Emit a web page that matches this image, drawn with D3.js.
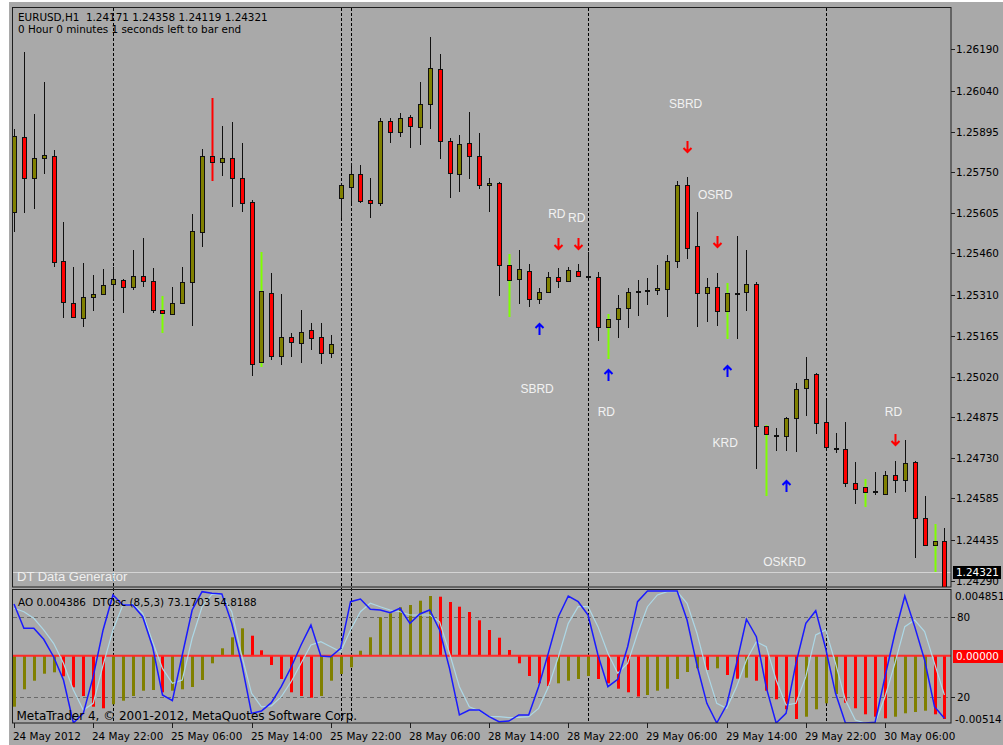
<!DOCTYPE html>
<html>
<head>
<meta charset="utf-8">
<script src="https://cdn.jsdelivr.net/npm/d3@7"></script>
<style>
body { margin: 0; background: #ffffff; }
svg text { font-family: "DejaVu Sans", sans-serif; }
</style>
</head>
<body>
<div id="chart"></div>
<script>
// EURUSD H1 bars
var opens = [1.25608,1.25876,1.25729,1.25801,1.25808,1.25433,1.25283,1.25229,1.25304,1.25315,
  1.25351,1.25365,1.25340,1.25379,1.25361,1.25258,1.25244,1.25283,1.25358,1.25536,
  1.25808,1.25786,1.25801,1.25729,1.25644,1.25072,1.25319,1.25094,1.25161,1.25140,
  1.25186,1.25161,1.25104,1.25658,1.25697,1.25744,1.25651,1.25640,1.25933,1.25894,
  1.25947,1.25911,1.25994,1.26119,1.25861,1.25744,1.25854,1.25808,1.25704,1.25711,
  1.25419,1.25369,1.25397,1.25297,1.25322,1.25376,1.25361,1.25397,1.25379,1.25376,
  1.25197,1.25226,1.25265,1.25326,1.25329,1.25329,1.25333,1.25433,1.25704,1.25486,
  1.25319,1.25340,1.25254,1.25319,1.25322,1.25351,1.24844,1.24811,1.24808,1.24872,
  1.24979,1.25029,1.24858,1.24765,1.24761,1.24640,1.24626,1.24611,1.24601,1.24669,
  1.24651,1.24715,1.24515,1.24419,1.24433];
var highs = [1.25904,1.26179,1.25958,1.26072,1.25829,1.25572,1.25411,1.25426,1.25383,1.25404,
  1.25411,1.25369,1.25472,1.25515,1.25408,1.25308,1.25340,1.25411,1.25601,1.25833,
  1.26015,1.25915,1.25929,1.25854,1.25651,1.25465,1.25390,1.25315,1.25176,1.25258,
  1.25211,1.25211,1.25169,1.25711,1.25783,1.25776,1.25729,1.25944,1.25944,1.25961,
  1.25954,1.26072,1.26233,1.26172,1.25872,1.25883,1.25965,1.25890,1.25729,1.25715,
  1.25458,1.25472,1.25422,1.25336,1.25394,1.25408,1.25411,1.25422,1.25465,1.25394,
  1.25244,1.25311,1.25336,1.25365,1.25372,1.25419,1.25454,1.25719,1.25733,1.25608,
  1.25372,1.25390,1.25354,1.25522,1.25472,1.25358,1.24847,1.24836,1.24875,1.24997,
  1.25090,1.25032,1.24936,1.24819,1.24858,1.24715,1.24654,1.24679,1.24683,1.24719,
  1.24794,1.24718,1.24594,1.24494,1.24479];
var lows = [1.25536,1.25604,1.25619,1.25744,1.25411,1.25229,1.25229,1.25197,1.25254,1.25311,
  1.25297,1.25247,1.25329,1.25340,1.25247,1.25176,1.25240,1.25279,1.25201,1.25483,
  1.25719,1.25736,1.25626,1.25608,1.25022,1.25054,1.25079,1.25061,1.25090,1.25069,
  1.25115,1.25065,1.25086,1.25586,1.25640,1.25640,1.25586,1.25629,1.25854,1.25876,
  1.25836,1.25847,1.25904,1.25797,1.25658,1.25679,1.25726,1.25690,1.25608,1.25308,
  1.25233,1.25279,1.25269,1.25279,1.25319,1.25336,1.25358,1.25376,1.25372,1.25147,
  1.25083,1.25158,1.25194,1.25236,1.25276,1.25311,1.25233,1.25408,1.25440,1.25197,
  1.25215,1.25201,1.25154,1.25154,1.25254,1.24690,1.24594,1.24754,1.24754,1.24751,
  1.24879,1.24815,1.24765,1.24747,1.24626,1.24565,1.24554,1.24597,1.24597,1.24604,
  1.24608,1.24372,1.24415,1.24322,1.24200];
var closes = [1.25879,1.25729,1.25801,1.25811,1.25429,1.25286,1.25233,1.25304,1.25315,1.25347,
  1.25369,1.25340,1.25379,1.25361,1.25258,1.25247,1.25283,1.25358,1.25540,1.25808,
  1.25786,1.25801,1.25729,1.25640,1.25065,1.25326,1.25094,1.25161,1.25144,1.25179,
  1.25158,1.25104,1.25136,1.25704,1.25744,1.25647,1.25640,1.25933,1.25894,1.25944,
  1.25915,1.25994,1.26122,1.25861,1.25747,1.25851,1.25808,1.25704,1.25711,1.25419,
  1.25365,1.25404,1.25297,1.25322,1.25376,1.25361,1.25401,1.25379,1.25379,1.25197,
  1.25226,1.25265,1.25322,1.25326,1.25329,1.25336,1.25433,1.25704,1.25479,1.25319,
  1.25340,1.25254,1.25319,1.25319,1.25351,1.24844,1.24815,1.24811,1.24872,1.24976,
  1.25011,1.24854,1.24769,1.24765,1.24640,1.24619,1.24608,1.24611,1.24669,1.24651,
  1.24711,1.24515,1.24419,1.24433,1.24200];
var greenWickBars = [15, 25, 50, 60, 72, 76, 86, 93];
var redWickBars = [20];

// lower window: AO histogram and DTOsc lines
var aoValues = [-0.004141,-0.002728,-0.002029,-0.001460,-0.001347,-0.001672,-0.002565,-0.003272,-0.004141,-0.004271,
  -0.003946,-0.003654,-0.003272,-0.002841,-0.002785,-0.002971,-0.002841,-0.002728,-0.002541,-0.001972,
  -0.000616,0.000603,0.001496,0.002227,0.001626,0.000440,-0.000754,-0.001891,-0.002971,-0.003272,
  -0.003410,-0.003272,-0.002029,-0.001485,-0.000941,0.000408,0.001496,0.003121,0.003446,0.003933,
  0.004120,0.004469,0.004851,0.004794,0.004364,0.003982,0.003551,0.002877,0.002089,0.001464,
  0.000465,-0.000616,-0.001647,-0.002240,-0.002460,-0.002240,-0.002029,-0.001891,-0.001647,-0.001891,
  -0.002240,-0.002679,-0.002971,-0.003313,-0.003191,-0.002841,-0.002679,-0.001891,-0.001322,-0.001022,
  -0.001160,-0.001022,-0.001566,-0.001867,-0.001785,-0.002029,-0.002841,-0.003540,-0.004352,-0.005140,
  -0.004953,-0.004352,-0.003865,-0.003109,-0.003816,-0.004271,-0.004758,-0.004953,-0.005083,-0.004953,
  -0.004677,-0.004572,-0.004466,-0.004758,-0.005140];
var oscMain = [90.2,71.7,71.7,63.4,50.2,32.6,0,7.3,35.1,70.5,
  97.0,89.4,89.4,80.5,57.8,21.2,16.9,51.5,85.6,99.5,
  98.3,97.7,75.5,45.2,7.3,9.1,15.4,27.5,42.2,59.1,
  74.2,50.8,50.2,56.6,91.9,93.9,86.1,85.6,83.6,86.9,
  75.5,82.6,85.6,70.5,41.4,6.1,9.8,9.8,4.8,1.0,
  1.5,6.1,6.1,27.5,53.3,80.5,96.2,91.9,81.8,51.5,
  27.5,33.1,57.8,91.9,100,100,100,100,78.0,43.9,
  14.9,0,13.6,45.2,78.6,65.4,27.0,0,7.3,45.2,
  75.5,85.1,56.6,22.5,0,0,0,0.5,35.1,68.0,
  96.2,73.0,47.7,12.3,3.6];
var oscSignal = [86.9,84.3,79.3,70.5,60.4,45.2,25.0,9.8,14.9,43.9,
  70.5,89.4,90.2,83.1,61.6,41.4,30.1,32.6,64.2,88.1,
  97.7,97.0,84.3,51.5,22.5,12.3,12.9,19.9,31.3,45.2,
  59.1,61.6,57.8,54.0,70.5,84.3,90.7,88.1,85.6,84.3,
  81.8,81.8,81.8,76.7,52.8,27.5,12.3,9.3,4.8,4.8,
  4.0,4.3,4.8,11.1,27.5,50.2,75.5,88.1,88.1,73.0,
  52.8,37.7,45.2,68.0,88.1,97.0,99.5,99.5,90.7,68.0,
  38.9,14.9,11.1,27.5,47.7,61.6,57.8,32.6,13.6,14.9,
  35.1,66.7,70.5,45.2,17.4,2.3,0,0,19.9,45.2,
  73.0,78.0,69.2,45.2,21.2];
var oscLevels = [80, 20];

// time axis and separators
var separatorBars = [10, 33, 34, 58, 82];
var timeLabelBars = [0, 8, 16, 24, 32, 40, 48, 56, 64, 72, 80, 88];
var timeLabels = ['24 May 2012', '24 May 22:00', '25 May 06:00', '25 May 14:00', '25 May 22:00', '28 May 06:00',
  '28 May 14:00', '28 May 22:00', '29 May 06:00', '29 May 14:00', '29 May 22:00', '30 May 06:00'];
var priceTicks = [1.26190, 1.26040, 1.25895, 1.25750, 1.25605, 1.25460, 1.25310,
  1.25165, 1.25020, 1.24875, 1.24730, 1.24585, 1.24435, 1.24290];
var bidPrice = 1.24321;

// signal objects
var downArrowBars = [55, 57, 68, 71, 89];
var downArrowPrices = [1.25494, 1.25494, 1.25840, 1.25501, 1.24794];
var upArrowBars = [53, 60, 72, 78];
var upArrowPrices = [1.25190, 1.25026, 1.25040, 1.24629];
var signalNames = ['SBRD', 'OSRD', 'RD', 'RD', 'SBRD', 'RD', 'KRD', 'OSKRD', 'RD'];
var signalBars = [68, 71, 55, 57, 53, 60, 72, 78, 89];
var signalPrices = [1.25997, 1.25672, 1.25604, 1.25590, 1.24976, 1.24894, 1.24783, 1.24361, 1.24894];

var OLIVE = '#808000';
var BG = '#a9a9a9';

var svg = d3.select('#chart')
    .append('svg')
    .attr('width', 1003)
    .attr('height', 745);

var x = d3.scaleLinear().domain([0, 94]).range([14, 944.4]);
var y = d3.scaleLinear().domain([1.24290, 1.26190]).range([581, 49]);
var ao = d3.scaleLinear().domain([-0.00514, 0.004851]).range([719, 596]);
var osc = d3.scaleLinear().domain([0, 100]).range([723, 591]);

function px(i) { return Math.round(x(i)); }

svg.append('rect').attr('x', 9).attr('y', 2).attr('width', 994).attr('height', 743).attr('fill', BG);

var defs = svg.append('defs');
defs.append('clipPath').attr('id', 'clipMain')
    .append('rect').attr('x', 13).attr('y', 8).attr('width', 938).attr('height', 579);
defs.append('clipPath').attr('id', 'clipLow')
    .append('rect').attr('x', 13).attr('y', 590).attr('width', 938).attr('height', 133);

// period separators
svg.append('g').selectAll('line')
    .data(separatorBars)
    .enter()
    .append('line')
    .attr('x1', function(d) { return px(d) + 0.5; })
    .attr('x2', function(d) { return px(d) + 0.5; })
    .attr('y1', 8)
    .attr('y2', 723)
    .attr('stroke', '#000')
    .attr('stroke-dasharray', '3,2');

// main window
var main = svg.append('g').attr('clip-path', 'url(#clipMain)');

main.append('line')
    .attr('x1', 13).attr('x2', 951)
    .attr('y1', Math.round(y(bidPrice)) + 0.5).attr('y2', Math.round(y(bidPrice)) + 0.5)
    .attr('stroke', '#d4d4d4');

var bars = d3.range(opens.length).map(function(i) {
    return { i: i, o: opens[i], h: highs[i], l: lows[i], c: closes[i] };
});

main.selectAll('line.wick')
    .data(bars)
    .enter()
    .append('line')
    .attr('class', 'wick')
    .attr('x1', function(d) { return px(d.i) + 0.5; })
    .attr('x2', function(d) { return px(d.i) + 0.5; })
    .attr('y1', function(d) { return Math.round(y(d.h)); })
    .attr('y2', function(d) { return Math.round(y(d.l)); })
    .attr('stroke-width', function(d) {
        return (greenWickBars.indexOf(d.i) >= 0 || redWickBars.indexOf(d.i) >= 0) ? 2 : 1;
    })
    .attr('stroke', function(d) {
        if (greenWickBars.indexOf(d.i) >= 0) return '#7fff00';
        if (redWickBars.indexOf(d.i) >= 0) return '#ff0000';
        return '#101010';
    });

main.selectAll('rect.body')
    .data(bars)
    .enter()
    .append('rect')
    .attr('class', 'body')
    .attr('x', function(d) { return px(d.i) - 1.5; })
    .attr('width', 4)
    .attr('y', function(d) { return Math.round(y(Math.max(d.o, d.c))) + 0.5; })
    .attr('height', function(d) {
        var h = Math.round(y(Math.min(d.o, d.c))) - Math.round(y(Math.max(d.o, d.c)));
        return Math.max(1, h);
    })
    .attr('fill', function(d) {
        if (d.c > d.o) return OLIVE;
        if (d.c < d.o) return '#ff0000';
        return '#000';
    })
    .attr('stroke', '#101010');

// arrows
main.selectAll('path.down')
    .data(downArrowBars)
    .enter()
    .append('path')
    .attr('d', function(d, i) {
        var cx = px(d) + 0.5, cy = Math.round(y(downArrowPrices[i]));
        return 'M' + cx + ',' + (cy - 6) + 'V' + (cy + 5) +
            'M' + (cx - 4) + ',' + (cy + 1) + 'L' + cx + ',' + (cy + 5) + 'L' + (cx + 4) + ',' + (cy + 1);
    })
    .attr('fill', 'none')
    .attr('stroke', '#ff0000')
    .attr('stroke-width', 2);

main.selectAll('path.up')
    .data(upArrowBars)
    .enter()
    .append('path')
    .attr('d', function(d, i) {
        var cx = px(d) + 0.5, cy = Math.round(y(upArrowPrices[i]));
        return 'M' + cx + ',' + (cy + 6) + 'V' + (cy - 5) +
            'M' + (cx - 4) + ',' + (cy - 1) + 'L' + cx + ',' + (cy - 5) + 'L' + (cx + 4) + ',' + (cy - 1);
    })
    .attr('fill', 'none')
    .attr('stroke', '#0000ff')
    .attr('stroke-width', 2);

main.selectAll('text.sig')
    .data(signalNames)
    .enter()
    .append('text')
    .attr('x', function(d, i) { return x(signalBars[i]) - 1.5; })
    .attr('y', function(d, i) { return y(signalPrices[i]) + 4.5; })
    .attr('text-anchor', 'middle')
    .style('font-family', '"Liberation Sans", Arial, sans-serif')
    .attr('font-size', '12px')
    .attr('fill', '#f2f2f2')
    .text(function(d) { return d; });

main.append('text')
    .attr('x', 17).attr('y', 581)
    .style('font-family', '"Liberation Sans", Arial, sans-serif')
    .attr('font-size', '13px')
    .attr('fill', '#eeeeee')
    .text('DT Data Generator');

// header
svg.append('text').attr('x', 18).attr('y', 21).attr('font-size', '10.4px').style('white-space', 'pre')
    .text('EURUSD,H1  1.24171 1.24358 1.24119 1.24321');
svg.append('text').attr('x', 18).attr('y', 32.5).attr('font-size', '10.4px')
    .text('0 Hour 0 minutes 1 seconds left to bar end');

// lower window
var low = svg.append('g').attr('clip-path', 'url(#clipLow)');

low.selectAll('line.level')
    .data(oscLevels)
    .enter()
    .append('line')
    .attr('x1', 13).attr('x2', 951)
    .attr('y1', function(d) { return Math.round(osc(d)) + 0.5; })
    .attr('y2', function(d) { return Math.round(osc(d)) + 0.5; })
    .attr('stroke', '#6a6a6a')
    .attr('stroke-dasharray', '4,3');

low.selectAll('rect.ao')
    .data(aoValues)
    .enter()
    .append('rect')
    .attr('x', function(d, i) { return px(i) - 1; })
    .attr('width', 3)
    .attr('y', function(d) { return Math.min(ao(0), ao(d)); })
    .attr('height', function(d) { return Math.abs(ao(d) - ao(0)); })
    .attr('fill', function(d, i) {
        if (i === 0 || d >= aoValues[i - 1]) return OLIVE;
        return '#ff0000';
    });

low.append('line')
    .attr('x1', 13).attr('x2', 951)
    .attr('y1', ao(0)).attr('y2', ao(0))
    .attr('stroke', '#ff2a2a')
    .attr('stroke-width', 2);

var oscLine = d3.line()
    .x(function(d, i) { return x(i); })
    .y(function(d) { return osc(d); });

low.append('path')
    .attr('d', oscLine(oscSignal))
    .attr('fill', 'none')
    .attr('stroke', '#add8e6')
    .attr('stroke-width', 1.2);

low.append('path')
    .attr('d', oscLine(oscMain))
    .attr('fill', 'none')
    .attr('stroke', '#1a1aff')
    .attr('stroke-width', 1.5);

svg.append('text').attr('x', 18).attr('y', 606).attr('font-size', '10.4px').style('white-space', 'pre')
    .text('AO 0.004386  DTOsc (8,5,3) 73.1703 54.8188');
svg.append('text').attr('x', 16.5).attr('y', 720).attr('font-size', '12px')
    .text('MetaTrader 4, \u00a9 2001-2012, MetaQuotes Software Corp.');

// frames
svg.append('rect').attr('x', 12.5).attr('y', 7.5).attr('width', 938.5).attr('height', 579.5)
    .attr('fill', 'none').attr('stroke', '#1e1e1e');
svg.append('rect').attr('x', 12.5).attr('y', 589.5).attr('width', 938.5).attr('height', 133.5)
    .attr('fill', 'none').attr('stroke', '#1e1e1e');

// price axis
var pa = svg.append('g');
pa.selectAll('line')
    .data(priceTicks)
    .enter()
    .append('line')
    .attr('x1', 951).attr('x2', 955)
    .attr('y1', function(d) { return Math.round(y(d)) + 0.5; })
    .attr('y2', function(d) { return Math.round(y(d)) + 0.5; })
    .attr('stroke', '#1e1e1e');
pa.selectAll('text')
    .data(priceTicks)
    .enter()
    .append('text')
    .attr('x', 956)
    .attr('y', function(d) { return y(d) + 4; })
    .attr('font-size', '10.4px')
    .text(function(d) { return d.toFixed(5); });

var by = Math.round(y(bidPrice));
svg.append('rect').attr('x', 953).attr('y', by - 6).attr('width', 48).attr('height', 13).attr('fill', '#000');
svg.append('text').attr('x', 956).attr('y', by + 4).attr('font-size', '10.4px').attr('fill', '#fff')
    .text(bidPrice.toFixed(5));

// lower window scale
var la = svg.append('g').attr('font-size', '10.4px');
la.append('text').attr('x', 955).attr('y', ao(0.004851) + 4).text('0.004851');
la.append('text').attr('x', 955).attr('y', ao(-0.00514) + 4).text('-0.00514');
oscLevels.forEach(function(v) {
    la.append('line').attr('x1', 951).attr('x2', 955)
        .attr('y1', Math.round(osc(v)) + 0.5).attr('y2', Math.round(osc(v)) + 0.5).attr('stroke', '#1e1e1e');
    la.append('text').attr('x', 957).attr('y', osc(v) + 4).text(v);
});
la.append('rect').attr('x', 953).attr('y', Math.round(ao(0)) - 6).attr('width', 50).attr('height', 13).attr('fill', '#ff0000');
la.append('text').attr('x', 956).attr('y', ao(0) + 4).attr('fill', '#fff').text('0.00000');

// time axis
var ta = svg.append('g');
ta.selectAll('line')
    .data(timeLabelBars)
    .enter()
    .append('line')
    .attr('x1', function(d) { return px(d) + 0.5; })
    .attr('x2', function(d) { return px(d) + 0.5; })
    .attr('y1', 723).attr('y2', 728)
    .attr('stroke', '#1e1e1e');
ta.selectAll('text')
    .data(timeLabels)
    .enter()
    .append('text')
    .attr('x', function(d, i) { return px(timeLabelBars[i]) - 1; })
    .attr('y', 740)
    .attr('font-size', '10.4px')
    .text(function(d) { return d; });
</script>
</body>
</html>
